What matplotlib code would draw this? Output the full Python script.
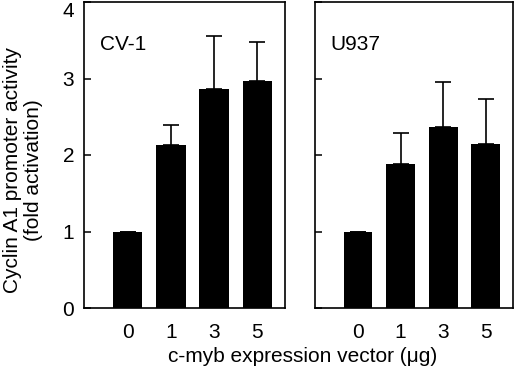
import matplotlib
matplotlib.use("Agg")
import matplotlib.pyplot as plt
import numpy as np

plt.rcParams['font.family'] = ['Liberation Sans', 'DejaVu Sans']

doses = ["0", "1", "3", "5"]
panels = ["CV-1", "U937"]
cv1_mean = [1.0, 2.13, 2.86, 2.97]
cv1_err = [0.0, 0.26, 0.69, 0.51]
u937_mean = [1.0, 1.88, 2.36, 2.15]
u937_err = [0.0, 0.41, 0.59, 0.58]
yticks = [0, 1, 2, 3, 4]

fig = plt.figure(figsize=(5.2, 3.8), dpi=100)
W, H = 520, 380
ax1 = fig.add_axes([84/W, 1-308/H, 201/W, 306/H])
ax2 = fig.add_axes([315/W, 1-308/H, 198/W, 306/H])

x = np.arange(len(doses))
for ax, name, m, e in [(ax1, panels[0], cv1_mean, cv1_err), (ax2, panels[1], u937_mean, u937_err)]:
    ax.bar(x, m, width=0.68, color='black', zorder=2)
    ax.errorbar(x, m, yerr=[np.zeros(len(e)), e], fmt='none', ecolor='black',
                elinewidth=1.2, capsize=5.5, capthick=1.2, zorder=1)
    ax.set_xlim(-1.01, 3.64)
    ax.set_ylim(0, 4)
    ax.set_xticks(x)
    ax.set_xticklabels(doses, fontsize=15)
    ax.set_yticks(yticks)
    ax.tick_params(axis='y', direction='in', length=5, width=1.1, labelsize=15, pad=7)
    ax.tick_params(axis='x', length=0, pad=11)
    for s in ax.spines.values():
        s.set_linewidth(1.2)
    ax.text(-0.64, 3.44, name, fontsize=15, va='center', ha='left')

ax1.set_yticklabels([str(t) for t in yticks])
ax1.get_yticklabels()[-1].set_verticalalignment('top')
ax1.get_yticklabels()[-1].set_y(3.99)
ax2.set_yticklabels([])
ax1.set_ylabel("Cyclin A1 promoter activity\n(fold activation)", fontsize=15, linespacing=1.15)
ax1.yaxis.set_label_coords(-0.205, 0.45)
fig.text(303/W, 1-357/H, "c-myb expression vector (μg)", fontsize=15, ha='center', va='center')

fig.savefig("out.png", dpi=100)
